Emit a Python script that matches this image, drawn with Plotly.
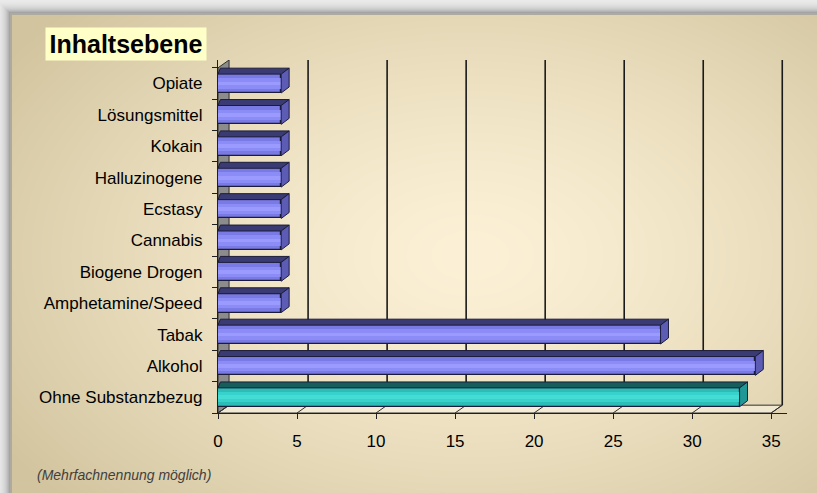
import base64, struct, zlib
import numpy as np
import plotly.graph_objects as go

# ---------------- data ----------------
categories = ["Opiate", "Lösungsmittel", "Kokain", "Halluzinogene", "Ecstasy",
              "Cannabis", "Biogene Drogen", "Amphetamine/Speed", "Tabak",
              "Alkohol", "Ohne Substanzbezug"]
values = [4, 4, 4, 4, 4, 4, 4, 4, 28, 34, 33]
highlight = [False] * 10 + [True]
x_ticks = [0, 5, 10, 15, 20, 25, 30, 35]
title_text = "Inhaltsebene"
footnote = "(Mehrfachnennung möglich)"

# ---------------- geometry / style ----------------
W, H = 817, 493
PLOT_L, PLOT_R, PLOT_T, PLOT_B = 218, 787, 60, 413   # pixel coords of plot area
L, R = PLOT_L, W - PLOT_R
T, B = PLOT_T, H - PLOT_B
XMAX = 36
YMIN, YMAX = -0.5, 10.75
WALL_DX, WALL_DY = 0.7, 0.25
BAR_DX, BAR_DY = 0.5, 0.19
BAR_H = 0.6
FONT = "Arial, Liberation Sans, sans-serif"

n = len(categories)
pos = [n - 1 - i for i in range(n)]  # top item highest

# ---------------- background image (radial beige + shadow) ----------------
def make_png(arr):
    h, w, _ = arr.shape
    a = arr.astype(np.int16)
    f = a.copy()
    f[:, 1:, :] = (a[:, 1:, :] - a[:, :-1, :]) % 256
    f = f.astype(np.uint8)
    raw = b"".join(b"\x01" + f[r].tobytes() for r in range(h))
    def chunk(tag, data):
        c = struct.pack(">I", len(data)) + tag + data
        return c + struct.pack(">I", zlib.crc32(tag + data) & 0xffffffff)
    return (b"\x89PNG\r\n\x1a\n" + chunk(b"IHDR", struct.pack(">IIBBBBB", w, h, 8, 2, 0, 0, 0))
            + chunk(b"IDAT", zlib.compress(raw, 9)) + chunk(b"IEND", b""))

yy, xx = np.mgrid[0:H, 0:W].astype(float)
FX, FY = 10, 13
light = np.array([252, 241, 214], float)
tan = np.array([210, 196, 158], float)
t = np.sqrt(((xx - 470) / 560) ** 2 + ((yy - 255) / 360) ** 2)
t = np.clip(t, 0, 1) ** 1.4
img = light[None, None, :] * (1 - t[..., None]) + tan[None, None, :] * t[..., None]
d = np.maximum(FX - xx, FY - yy)
outside = d > 0
shade = 242 - 95 * np.exp(-np.clip(d, 0, None) / 5.0)
sh = np.stack([shade] * 3, axis=-1)
img = np.where(outside[..., None], sh, img)
edge = (~outside) & (d > -1.5)
img = np.where(edge[..., None], np.array([175, 170, 160], float)[None, None, :], img)
img = np.clip(img, 0, 255).astype(np.uint8)
uri = "data:image/png;base64," + base64.b64encode(make_png(img)).decode()

pw = W - L - R
ph = H - T - B

def px_x(p):  # pixel x -> paper x
    return (p - PLOT_L) / pw

def px_y(p):  # pixel y -> paper y
    return (PLOT_B - p) / ph

fig = go.Figure()

# front face of bars (layered for a cylindrical shading)
front_base = ["#2bbdb6" if h else "#7a7ae4" for h in highlight]
front_mid = ["#36d2cb" if h else "#8c8cf6" for h in highlight]
front_hi = ["#45dcd6" if h else "#9a9aff" for h in highlight]
fig.add_trace(go.Bar(y=pos, x=values, orientation="h", width=BAR_H,
                     marker=dict(color=front_base, line=dict(color="#1c1c3a", width=1.2)),
                     hoverinfo="x+text", text=categories, textposition="none"))
fig.add_trace(go.Bar(y=pos, x=values, orientation="h", width=BAR_H * 0.55,
                     marker=dict(color=front_mid, line=dict(width=0)), hoverinfo="skip"))
fig.add_trace(go.Bar(y=pos, x=values, orientation="h", width=BAR_H * 0.2,
                     marker=dict(color=front_hi, line=dict(width=0)), hoverinfo="skip"))

shapes = []
# left wall
shapes.append(dict(type="path", xref="x", yref="y", layer="below",
                   path=f"M0,{YMIN} L{WALL_DX},{YMIN + WALL_DY} L{WALL_DX},{YMAX} L0,{YMAX - WALL_DY} Z",
                   fillcolor="#8c8c8c", line=dict(color="#303030", width=1)))
# floor
xend = x_ticks[-1]
shapes.append(dict(type="path", xref="x", yref="y", layer="below",
                   path=f"M0,{YMIN} L{xend},{YMIN} L{xend + WALL_DX},{YMIN + WALL_DY} L{WALL_DX},{YMIN + WALL_DY} Z",
                   fillcolor="rgba(250,244,228,0.6)", line=dict(color="#303030", width=1)))
# back-wall gridlines and slanted floor ticks
for k in x_ticks:
    if k > 0:
        shapes.append(dict(type="line", xref="x", yref="y", layer="below",
                           x0=k + WALL_DX, x1=k + WALL_DX, y0=YMIN + WALL_DY, y1=YMAX,
                           line=dict(color="#1a1a1a", width=1.6)))
    shapes.append(dict(type="line", xref="x", yref="y", layer="below",
                       x0=k, x1=k + WALL_DX, y0=YMIN, y1=YMIN + WALL_DY,
                       line=dict(color="#303030", width=1)))

# top and side faces of bars
for p, v, h in zip(pos, values, highlight):
    top_c = "#165e5c" if h else "#3b3b74"
    side_c = "#1f9896" if h else "#5c5cb4"
    yt = p + BAR_H / 2
    yb = p - BAR_H / 2
    shapes.append(dict(type="path", xref="x", yref="y",
                       path=f"M0,{yt} L{v},{yt} L{v + BAR_DX},{yt + BAR_DY} L{BAR_DX * 0.3},{yt + BAR_DY} Z",
                       fillcolor=top_c, line=dict(color="#1c1c3a", width=1)))
    shapes.append(dict(type="path", xref="x", yref="y",
                       path=f"M{v},{yb} L{v},{yt} L{v + BAR_DX},{yt + BAR_DY} L{v + BAR_DX},{yb + BAR_DY} Z",
                       fillcolor=side_c, line=dict(color="#1c1c3a", width=1)))

annotations = [
    dict(text=f"<b>{title_text}</b>", xref="paper", yref="paper",
         x=px_x(125.5), y=px_y(44), xanchor="center", yanchor="middle", showarrow=False,
         font=dict(family=FONT, size=25, color="#000000"), bgcolor="#ffffc8",
         width=157, height=29, borderpad=1.5),
    dict(text=f"<i>{footnote}</i>", xref="paper", yref="paper",
         x=px_x(35), y=px_y(475), xanchor="left", yanchor="middle", showarrow=False,
         font=dict(family=FONT, size=14, color="#404040")),
]

fig.update_layout(
    width=W, height=H, margin=dict(l=L, r=R, t=T, b=B, pad=0),
    paper_bgcolor="#f0f0f0", plot_bgcolor="rgba(0,0,0,0)",
    barmode="overlay", showlegend=False, bargap=0,
    shapes=shapes, annotations=annotations,
    images=[dict(source=uri, xref="paper", yref="paper", x=px_x(0), y=px_y(0),
                 sizex=W / pw, sizey=H / ph, sizing="stretch", xanchor="left",
                 yanchor="top", layer="below")],
    font=dict(family=FONT, size=17, color="#000000"),
)
fig.update_xaxes(range=[0, XMAX], tickvals=x_ticks, ticktext=[str(v) for v in x_ticks],
                 showgrid=False, zeroline=False, showline=True, linecolor="#202020", linewidth=1.2,
                 ticks="outside", ticklen=5, tickcolor="#202020", ticklabelstandoff=7,
                 tickfont=dict(family=FONT, size=17))
fig.update_yaxes(range=[YMIN, YMAX], tickvals=pos, ticktext=categories,
                 showgrid=False, zeroline=False, showline=True, linecolor="#202020", linewidth=1.2,
                 ticks="", ticklabelstandoff=11, tickfont=dict(family=FONT, size=17),
                 minor=dict(tickvals=[i + 0.5 for i in range(-1, n)], ticks="outside",
                            ticklen=5, tickcolor="#202020", showgrid=False))

fig.write_html("out.html", config={"displayModeBar": False},
               post_script="document.body.style.margin='0';document.body.style.overflow='hidden';")
